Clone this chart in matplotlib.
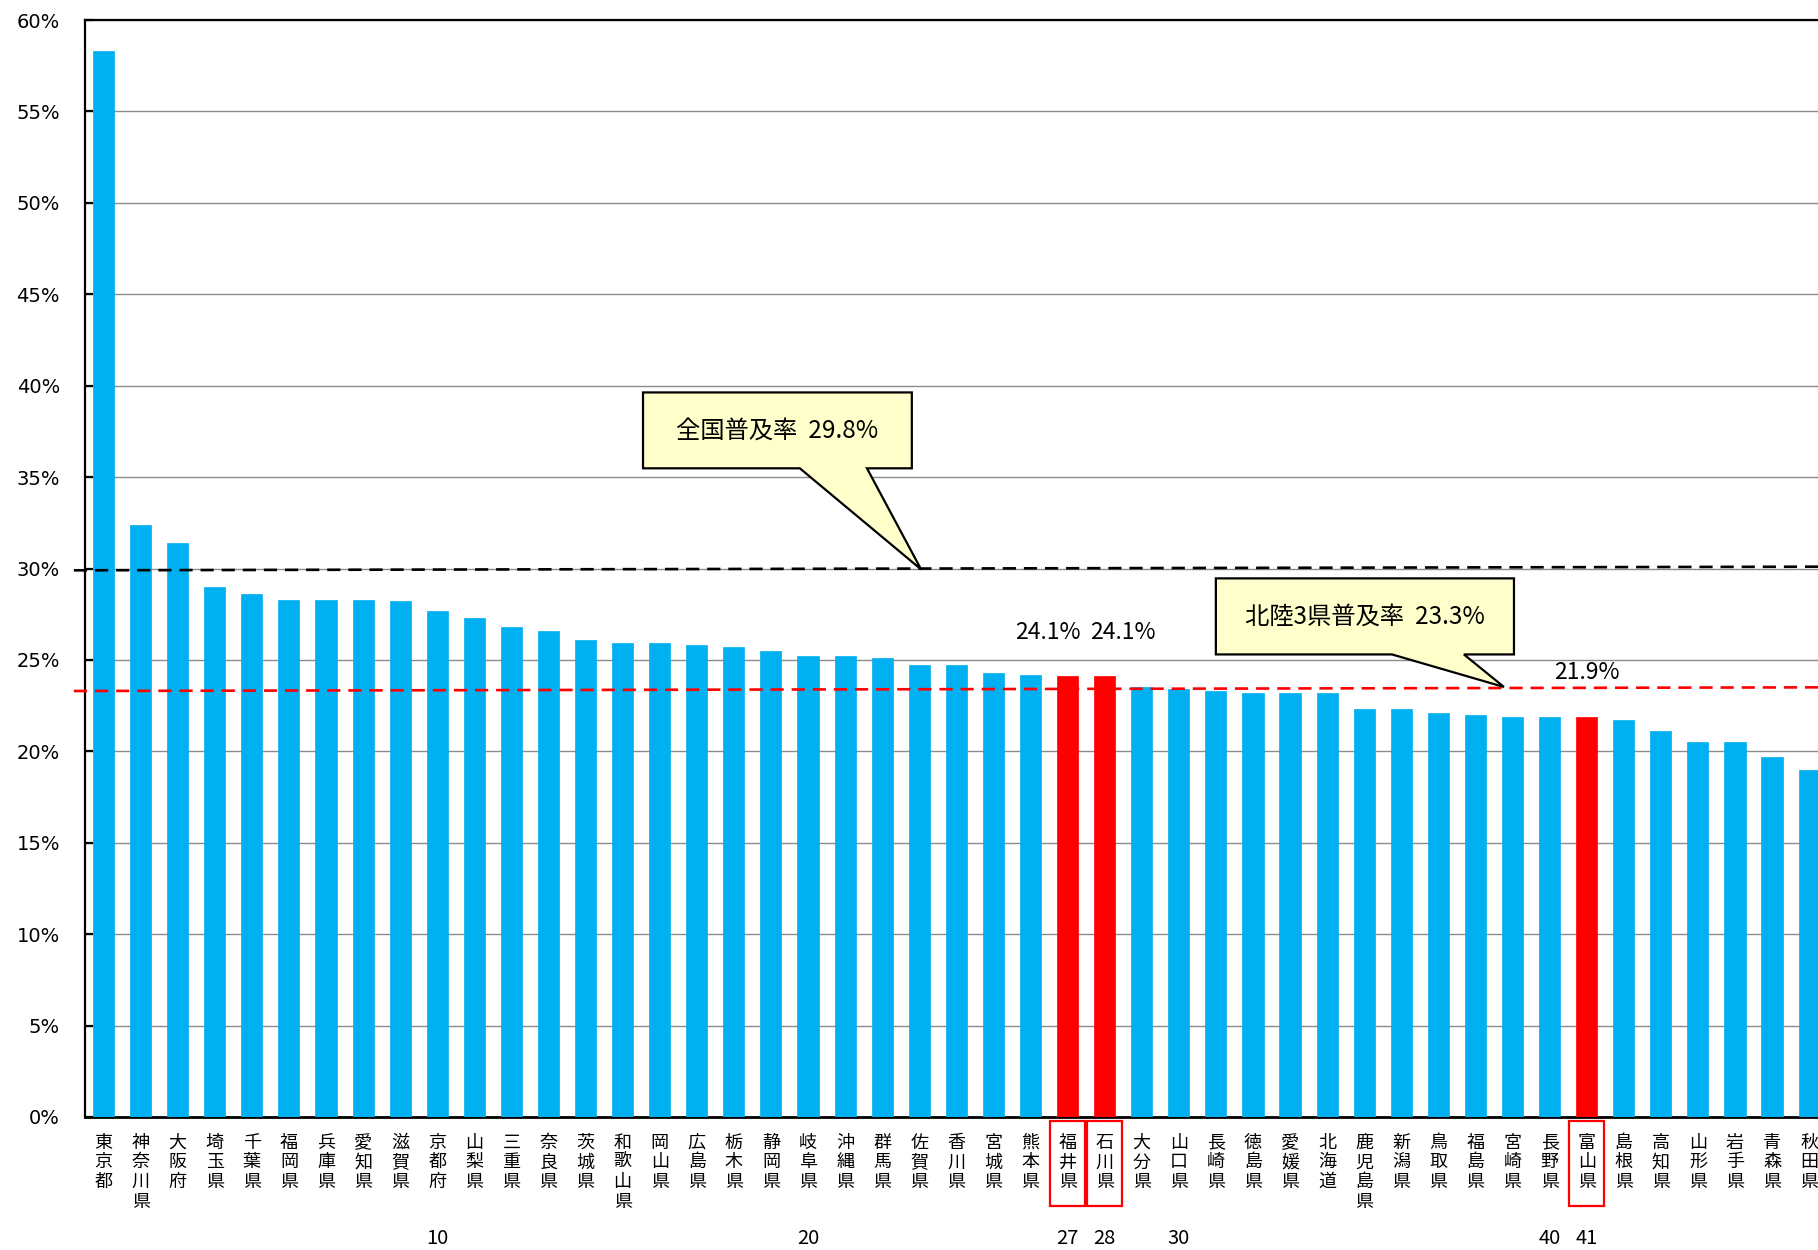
import matplotlib
matplotlib.use("Agg")
import matplotlib.pyplot as plt
from matplotlib.patches import Polygon, Rectangle
from matplotlib.transforms import blended_transform_factory
from matplotlib.ticker import FuncFormatter

plt.rcParams['font.family'] = ['Noto Sans CJK JP', 'DejaVu Sans']

# 都道府県別 普及率 (%)
prefectures = [
    "東京都", "神奈川県", "大阪府", "埼玉県", "千葉県", "福岡県", "兵庫県", "愛知県",
    "滋賀県", "京都府", "山梨県", "三重県", "奈良県", "茨城県", "和歌山県", "岡山県",
    "広島県", "栃木県", "静岡県", "岐阜県", "沖縄県", "群馬県", "佐賀県", "香川県",
    "宮城県", "熊本県", "福井県", "石川県", "大分県", "山口県", "長崎県", "徳島県",
    "愛媛県", "北海道", "鹿児島県", "新潟県", "鳥取県", "福島県", "宮崎県", "長野県",
    "富山県", "島根県", "高知県", "山形県", "岩手県", "青森県", "秋田県",
]
rates = [
    58.3, 32.4, 31.4, 29.0, 28.6, 28.3, 28.3, 28.3,
    28.2, 27.7, 27.3, 26.8, 26.6, 26.1, 25.9, 25.9,
    25.8, 25.7, 25.5, 25.2, 25.2, 25.1, 24.7, 24.7,
    24.3, 24.2, 24.1, 24.1, 23.5, 23.4, 23.3, 23.2,
    23.2, 23.2, 22.3, 22.3, 22.1, 22.0, 21.9, 21.9,
    21.9, 21.7, 21.1, 20.5, 20.5, 19.7, 19.0,
]
hokuriku = ["福井県", "石川県", "富山県"]
rank_marks = [10, 20, 27, 28, 30, 40, 41]

national_rate = 29.8
hokuriku_rate = 23.3
# dashed lines as drawn in the original (slightly tilted)
national_line = (29.9, 30.1)
hokuriku_line = (23.3, 23.5)

BLUE = "#00B0F0"
RED = "#FF0000"

fig = plt.figure(figsize=(18.18, 12.5), dpi=100)
ax = fig.add_axes([85 / 1818, 133 / 1250, 1733 / 1818, 1097 / 1250])

x = list(range(len(prefectures)))
colors = [RED if p in hokuriku else BLUE for p in prefectures]
ax.bar(x, rates, width=0.57, color=colors, edgecolor=colors, linewidth=0.5, zorder=3)

ax.set_xlim(-0.5, 46.24)
ax.set_ylim(0, 60)
ax.set_yticks(range(0, 61, 5))
ax.yaxis.set_major_formatter(FuncFormatter(lambda v, _: f"{int(v)}%"))
ax.grid(axis="y", color="#8c8c8c", linewidth=1.0, zorder=1)
ax.set_axisbelow(True)

for s in ["left", "top", "bottom"]:
    ax.spines[s].set_color("black")
    ax.spines[s].set_linewidth(1.6)
ax.spines["bottom"].set_linewidth(2.0)
ax.spines["right"].set_visible(False)

ax.tick_params(axis="y", direction="in", length=6, width=1.6, pad=18, labelsize=14)
for t in ax.get_yticklabels():
    t.set_fontfamily("DejaVu Sans")
ax.tick_params(axis="x", length=0, pad=12)
ax.set_xticks(x)
ax.set_xticklabels(["\n".join(p) for p in prefectures], fontsize=13, linespacing=1.12, va="top")

# red frames round the Hokuriku labels
trans = blended_transform_factory(ax.transData, ax.transAxes)
for i, p in enumerate(prefectures):
    if p in hokuriku:
        ax.add_patch(Rectangle((i - 0.47, -0.0812), 0.94, 0.0775, transform=trans,
                               fill=False, edgecolor=RED, linewidth=1.6, clip_on=False))

# rank numbers below
for r in rank_marks:
    ax.text(r - 1, -0.111, str(r), transform=trans, ha="center", va="center", fontsize=14.5)

# dashed reference lines
ax.plot([-0.8, 46.24], list(national_line), color="black", linestyle=(0, (5, 3)),
        linewidth=1.9, zorder=4, clip_on=False)
ax.plot([-0.8, 46.24], list(hokuriku_line), color=RED, linestyle=(0, (5, 3)),
        linewidth=1.9, zorder=4, clip_on=False)


def callout(text, box, base, tip):
    x0, x1, y0, y1 = box
    verts = [(x0, y1), (x1, y1), (x1, y0), (base[1], y0), tip, (base[0], y0), (x0, y0)]
    ax.add_patch(Polygon(verts, closed=True, facecolor="#FFFFCC", edgecolor="black",
                         linewidth=1.6, zorder=5))
    ax.text((x0 + x1) / 2, (y0 + y1) / 2, text, ha="center", va="center",
            fontsize=17.5, zorder=6)


callout(f"全国普及率  {national_rate}%", (14.55, 21.8, 35.48, 39.63),
        (18.78, 20.59), (22.05, national_line[0] + 0.05))
callout(f"北陸3県普及率  {hokuriku_rate}%", (30.0, 38.04, 25.3, 29.46),
        (34.75, 36.69), (37.77, 23.52))

# value labels for Hokuriku prefectures
offsets = {"福井県": -14, "石川県": 13, "富山県": 0}
label_y = {"福井県": 26.5, "石川県": 26.5, "富山県": 24.3}
for i, p in enumerate(prefectures):
    if p in hokuriku:
        ax.annotate(f"{rates[i]}%", (i, label_y[p]), xytext=(offsets[p], 0),
                    textcoords="offset points", ha="center", va="center",
                    fontsize=16.5, zorder=6)

fig.savefig("out.png", dpi=100)
